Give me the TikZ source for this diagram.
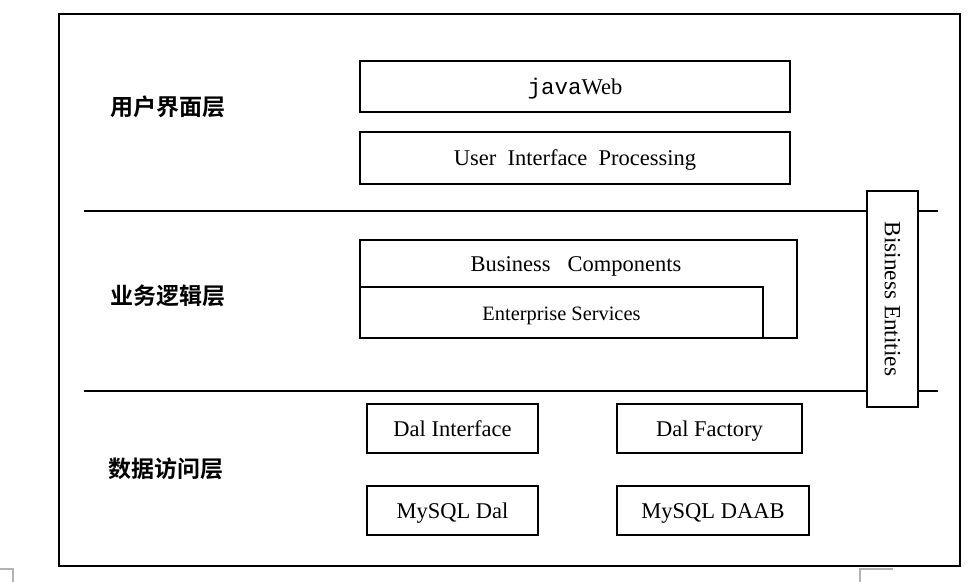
\documentclass[tikz,border=0pt]{standalone}
\usepackage{fontspec}
\setmainfont{Liberation Serif}
\newfontfamily\monofnt{Liberation Mono}
\newfontfamily\cjk[BoldFont={* Bold}]{Noto Sans CJK SC}
\usetikzlibrary{positioning,calc}

\begin{document}
\begin{tikzpicture}[
		x=0.5pt, y=-0.5pt,
		box/.style={
			draw=black,            % black frame
			line width=0.8pt,
			fill=white,
			inner sep=0pt,
			text height=9pt, text depth=1pt,
			font=\fontsize{11.25}{13}\selectfont,
			anchor=center
		},
		layer/.style={             % layer name on the left
			font=\cjk\bfseries\fontsize{11.5}{13}\selectfont
		},
		sep/.style={line width=0.8pt},
		cornermark/.style={gray!60, line width=0.6pt}
	]
	\useasboundingbox (0,0) rectangle (980,582);
	% --- outer frame ---
	\draw[line width=1pt] (59,14) rectangle (960,566);
	
	% --- layer names ---
	\node[layer] (ui-name)  at (168,107) {用户界面层};
	\node[layer] (bl-name)  at (168,296) {业务逻辑层};
	\node[layer] (dal-name) at (166,469) {数据访问层};
	
	% --- side box: Business Entities ---
	\node[box, minimum width=25.5pt, minimum height=108pt] (ent) at (892.5,299) {};
	\node[rotate=-90, font=\fontsize{11.6}{13}\selectfont] (ent-txt) at (ent.center) {Bisiness Entities};
	
	% --- separators (stop at the side box) ---
	\coordinate (s1l) at (84,211);
	\coordinate (s1r) at (938,211);
	\coordinate (s2l) at (84,391);
	\coordinate (s2r) at (938,391);
	\draw[sep] (s1l) -- (s1l -| ent.west);
	\draw[sep] (s1r -| ent.east) -- (s1r);
	\draw[sep] (s2l) -- (s2l -| ent.west);
	\draw[sep] (s2r -| ent.east) -- (s2r);
	
	% --- user interface layer ---
	\node[box, minimum width=215pt, minimum height=25.5pt] (web) at (575,86.5) {{\monofnt java}Web};
	\node[box, minimum width=215pt, minimum height=26pt] (uip) at (575,158) {User\ \ Interface\ \ Processing};
	
	% --- business logic layer ---
	\node[box, minimum width=218.5pt, minimum height=49pt] (bc) at (578.5,289) {};
	\node[font=\fontsize{11.25}{13}\selectfont, text height=9pt, text depth=1pt] (bc-txt) at (576,264) {Business\ \ \ Components};
	\node[box, minimum width=201.5pt, minimum height=25.5pt, font=\fontsize{10.2}{12}\selectfont] (es) at (561.5,312.5) {Enterprise Services};
	
	% --- data access layer ---
	\node[box, minimum width=85.5pt, minimum height=24.5pt] (dal-if)   at (452.5,428.5) {Dal Interface};
	\node[box, minimum width=92.5pt, minimum height=24.5pt] (dal-fac)  at (709.5,428.5) {Dal Factory};
	\node[box, minimum width=85.5pt, minimum height=24.5pt] (my-dal)   at (452.5,510.5) {MySQL Dal};
	\node[box, minimum width=96pt,   minimum height=24.5pt] (my-daab)  at (713,510.5) {MySQL DAAB};
	
	% --- page corner marks ---
	\coordinate (cl) at (13,569);
	\coordinate (cr) at (860,569);
	\draw[cornermark] (0,569) -- (cl) -- (13,582);
	\draw[cornermark] (893,569) -- (cr) -- (860,582);
\end{tikzpicture}
\end{document}
